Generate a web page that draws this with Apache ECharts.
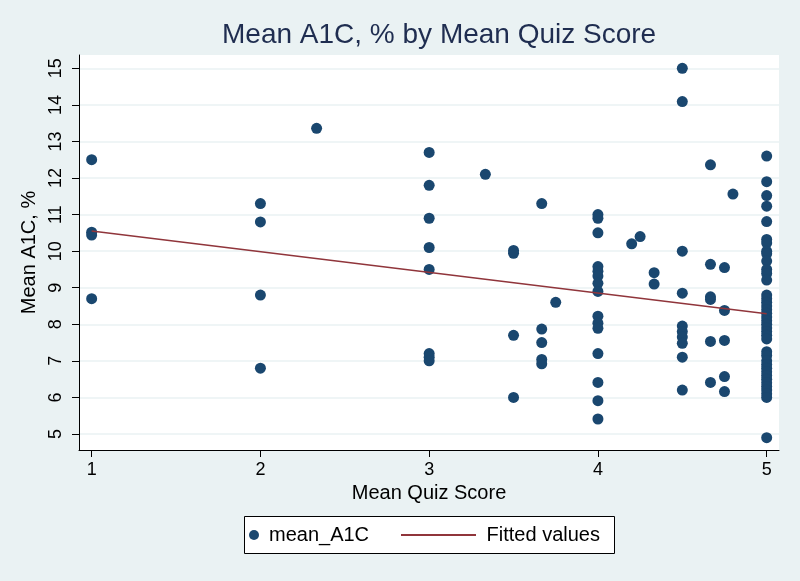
<!DOCTYPE html>
<html>
<head>
<meta charset="utf-8">
<script src="https://cdn.jsdelivr.net/npm/echarts@6/dist/echarts.min.js"></script>
<style>
  html, body { margin: 0; padding: 0; background: #eaf2f3; }
  #chart { width: 800px; height: 581px; }
</style>
</head>
<body>
<div id="chart"></div>
<script>
// scatter points, one row per quiz score column
const quizScore = [
  1, 1, 1, 1,
  2, 2, 2, 2,
  2.333,
  3, 3, 3, 3, 3, 3, 3, 3,
  3.333,
  3.5, 3.5, 3.5, 3.5,
  3.667, 3.667, 3.667, 3.667, 3.667,
  3.75,
  4, 4, 4, 4, 4, 4, 4, 4, 4, 4, 4, 4, 4, 4, 4,
  4.2, 4.25, 4.333, 4.333,
  4.5, 4.5, 4.5, 4.5, 4.5, 4.5, 4.5, 4.5, 4.5, 4.5,
  4.667, 4.667, 4.667, 4.667, 4.667, 4.667,
  4.75, 4.75, 4.75, 4.75, 4.75,
  4.8,
  5, 5, 5, 5, 5, 5, 5, 5, 5, 5, 5, 5, 5,
  5, 5, 5, 5, 5, 5, 5, 5, 5, 5, 5, 5, 5,
  5, 5, 5, 5, 5, 5, 5, 5, 5, 5, 5, 5, 5,
  5
];
const meanA1C = [
  12.5, 10.52, 10.44, 8.7,
  11.3, 10.8, 8.8, 6.8,
  13.36,
  12.7, 11.8, 10.9, 10.1, 9.5, 7.2, 7.1, 7.0,
  12.1,
  10.02, 9.94, 7.7, 6.0,
  11.3, 7.87, 7.5, 7.04, 6.92,
  8.6,
  11.0, 10.9, 10.5, 9.58, 9.45, 9.32, 9.12, 8.9, 8.22, 8.03, 7.89, 7.2, 6.41, 5.91, 5.41,
  10.2, 10.4, 9.41, 9.1,
  15.0, 14.09, 10.0, 8.85, 7.95, 7.8, 7.65, 7.48, 7.1, 6.2,
  12.36, 9.64, 8.75, 8.68, 7.53, 6.41,
  9.55, 8.38, 7.56, 6.57, 6.16,
  11.56,
  12.6, 11.9, 11.52, 11.23, 10.81, 10.32, 10.22, 10.0, 9.93, 9.73, 9.5, 9.39, 9.21,
  8.8, 8.7, 8.6, 8.5, 8.4, 8.3, 8.2, 8.1, 8.0, 7.9, 7.8, 7.7, 7.6,
  7.25, 7.15, 7.0, 6.9, 6.8, 6.7, 6.6, 6.5, 6.4, 6.3, 6.2, 6.1, 6.0,
  4.9
];
// fitted regression line
const fitX = [1, 5];
const fitY = [10.55, 8.29];

const xTicks = [1, 2, 3, 4, 5];
const yTicks = [5, 6, 7, 8, 9, 10, 11, 12, 13, 14, 15];

const font = "'Liberation Sans', Arial, sans-serif";

let myChart = echarts.init(document.getElementById("chart"));
myChart.setOption({
  backgroundColor: "#eaf2f3",
  animation: false,
  title: {
    text: "Mean A1C, % by Mean Quiz Score",
    left: 222,
    top: 21,
    padding: 0,
    textStyle: {
      color: "#1f2d50",
      fontSize: 28,
      fontWeight: "normal",
      fontFamily: font,
    },
  },
  grid: {
    left: 79,
    right: 21,
    top: 55,
    bottom: 131,
    show: true,
    backgroundColor: "#ffffff",
    borderWidth: 0,
  },
  xAxis: {
    type: "value",
    min: 0.925,
    max: 5.073,
    name: "Mean Quiz Score",
    nameLocation: "middle",
    nameGap: 33,
    nameTextStyle: { color: "#000", fontSize: 20, fontFamily: font },
    axisLine: { show: true, onZero: false, lineStyle: { color: "#000", width: 1 } },
    axisTick: { show: true, length: 7, customValues: xTicks, lineStyle: { color: "#000" } },
    axisLabel: {
      customValues: xTicks,
      margin: 11,
      color: "#000",
      fontSize: 18,
      fontFamily: font,
    },
    splitLine: { show: false },
  },
  yAxis: {
    type: "value",
    min: 4.5625,
    max: 15.364,
    name: "Mean A1C, %",
    nameLocation: "middle",
    nameGap: 36,
    nameTextStyle: { color: "#000", fontSize: 20, fontFamily: font },
    axisLine: { show: true, onZero: false, lineStyle: { color: "#000", width: 1 } },
    axisTick: { show: true, length: 7, customValues: yTicks, lineStyle: { color: "#000" } },
    axisLabel: {
      customValues: yTicks,
      rotate: 90,
      margin: 14,
      color: "#000",
      fontSize: 18,
      fontFamily: font,
    },
    splitLine: { show: true, lineStyle: { color: "#eaf2f3", width: 1.5 } },
  },
  legend: [
    {
      data: [{ name: "mean_A1C", icon: "circle" }],
      left: 249,
      top: 525,
      padding: 0,
      itemWidth: 20,
      itemHeight: 10,
      textStyle: { color: "#000", fontSize: 20, fontFamily: font },
    },
    {
      data: [{ name: "Fitted values", icon: "rect" }],
      left: 401,
      top: 525,
      padding: 0,
      itemWidth: 75,
      itemHeight: 2,
      formatter: (name) => " " + name,
      textStyle: { color: "#000", fontSize: 20, fontFamily: font },
    },
  ],
  graphic: [
    {
      type: "rect",
      left: 244,
      top: 516,
      shape: { width: 370, height: 37 },
      style: { fill: "#ffffff", stroke: "#000", lineWidth: 1 },
      z: 0,
    },
  ],
  series: [
    {
      name: "mean_A1C",
      type: "scatter",
      symbolSize: 11,
      itemStyle: { color: "#1a476f", opacity: 1 },
      data: quizScore.map((x, i) => [x, meanA1C[i]]),
    },
    {
      name: "Fitted values",
      type: "line",
      symbol: "none",
      z: 5,
      lineStyle: { color: "#90353b", width: 1.5 },
      itemStyle: { color: "#90353b" },
      data: fitX.map((x, i) => [x, fitY[i]]),
    },
  ],
});
</script>
</body>
</html>
